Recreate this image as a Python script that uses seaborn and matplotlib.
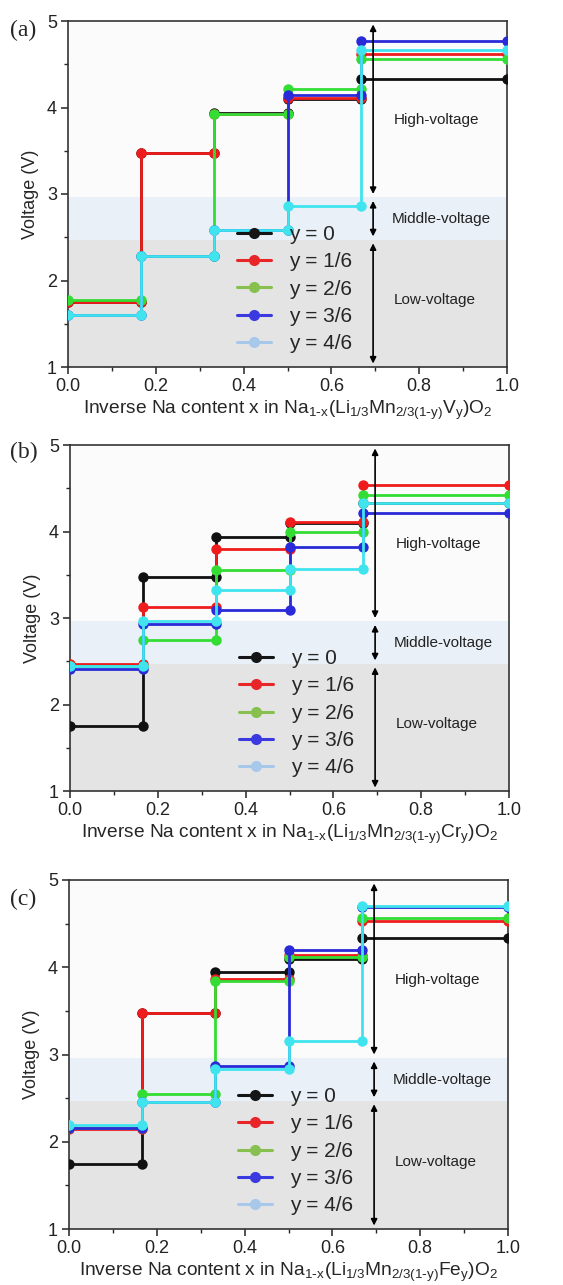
import numpy as np
import pandas as pd
import matplotlib
matplotlib.use("Agg")
import matplotlib.pyplot as plt
import seaborn as sns
from matplotlib.lines import Line2D
from matplotlib.ticker import MultipleLocator

# ---------------- data ----------------
x_breaks = [0.0, 1/6, 2/6, 3/6, 4/6, 1.0]
labels = ["y = 0", "y = 1/6", "y = 2/6", "y = 3/6", "y = 4/6"]

# (a) V-substituted
a_y0 = [1.75, 3.47, 3.94, 4.10, 4.33]
a_y1 = [1.75, 3.47, 3.93, 4.11, 4.62]
a_y2 = [1.77, 2.28, 3.92, 4.21, 4.56]
a_y3 = [1.60, 2.28, 2.58, 4.15, 4.77]
a_y4 = [1.60, 2.28, 2.58, 2.86, 4.66]

# (b) Cr-substituted
b_y0 = [1.75, 3.47, 3.94, 4.10, 4.33]
b_y1 = [2.47, 3.13, 3.80, 4.11, 4.54]
b_y2 = [2.44, 2.75, 3.56, 3.99, 4.42]
b_y3 = [2.41, 2.93, 3.09, 3.82, 4.21]
b_y4 = [2.44, 2.97, 3.32, 3.57, 4.33]

# (c) Fe-substituted
c_y0 = [1.75, 3.47, 3.94, 4.10, 4.33]
c_y1 = [2.15, 3.47, 3.87, 4.14, 4.53]
c_y2 = [2.16, 2.55, 3.84, 4.12, 4.57]
c_y3 = [2.16, 2.45, 2.87, 4.20, 4.69]
c_y4 = [2.19, 2.45, 2.83, 3.15, 4.70]

region_edges = [1.0, 2.47, 2.96, 5.0]
region_names = ["Low-voltage", "Middle-voltage", "High-voltage"]

panel_tags = ["(a)", "(b)", "(c)"]
dopants = ["V", "Cr", "Fe"]

# ---------------- style ----------------
sns.set_theme(style="ticks")
plt.rcParams["font.family"] = ["Liberation Sans", "DejaVu Sans"]
plt.rcParams["mathtext.default"] = "regular"

line_colors = ["#111111", "#ee1c1c", "#33dd33", "#2a2ad8", "#40e4ee"]
legend_colors = ["#151515", "#e8262a", "#88c050", "#3a3ae0", "#a8c8ea"]
band_colors = ["#e4e4e4", "#eaf0f8", "#fbfbfc"]

fig = plt.figure(figsize=(5.63, 12.85), dpi=100)

axes_rects = [
    [68/563, 1 - 367/1285, 439/563, 346/1285],
    [70/563, 1 - 791/1285, 439/563, 346/1285],
    [69/563, 1 - 1229/1285, 439/563, 349/1285],
]
tag_y = [1 - 30/1285, 1 - 452/1285, 1 - 899/1285]

panels = [
    [a_y0, a_y1, a_y2, a_y3, a_y4],
    [b_y0, b_y1, b_y2, b_y3, b_y4],
    [c_y0, c_y1, c_y2, c_y3, c_y4],
]


def step_frame(vals, label):
    xs, ys = [], []
    for i, v in enumerate(vals):
        xs += [x_breaks[i], x_breaks[i + 1]]
        ys += [v, v]
    return pd.DataFrame({"x": xs, "V": ys, "series": label})


for p, (rect, series, tag, dop) in enumerate(zip(axes_rects, panels, panel_tags, dopants)):
    ax = fig.add_axes(rect)
    # background regions
    for k in range(3):
        ax.axhspan(region_edges[k], region_edges[k + 1], color=band_colors[k], lw=0, zorder=0)

    for vals, lab, col in zip(series, labels, line_colors):
        df = step_frame(vals, lab)
        sns.lineplot(data=df, x="x", y="V", ax=ax, sort=False, estimator=None,
                     color=col, lw=2.0, marker="o", markersize=7.5,
                     markeredgewidth=0, legend=False, zorder=3)

    # arrows
    ax_x = 0.695
    for k in range(3):
        lo = region_edges[k] + 0.04
        hi = region_edges[k + 1] - 0.04
        ax.annotate("", xy=(ax_x, hi), xytext=(ax_x, lo),
                    arrowprops=dict(arrowstyle="<|-|>", color="black", lw=1.2,
                                    mutation_scale=9, shrinkA=0, shrinkB=0),
                    zorder=4)
    ax.text(0.84, 3.85, region_names[2], ha="center", va="center", fontsize=11, color="#222222")
    ax.text(0.85, 2.71, region_names[1], ha="center", va="center", fontsize=11, color="#222222")
    ax.text(0.835, 1.77, region_names[0], ha="center", va="center", fontsize=11, color="#222222")

    ax.set_xlim(0, 1)
    ax.set_ylim(1, 5)
    ax.xaxis.set_major_locator(MultipleLocator(0.2))
    ax.xaxis.set_minor_locator(MultipleLocator(0.1))
    ax.yaxis.set_major_locator(MultipleLocator(1))
    ax.yaxis.set_minor_locator(MultipleLocator(0.5))
    ax.xaxis.set_major_formatter(matplotlib.ticker.FormatStrFormatter("%.1f"))
    ax.tick_params(axis="both", which="major", direction="out", length=5, width=1.1,
                   labelsize=13, colors="#222222", pad=3)
    ax.tick_params(axis="both", which="minor", direction="out", length=3, width=1.0)
    for s in ax.spines.values():
        s.set_visible(True)
        s.set_linewidth(1.2)
        s.set_color("#333333")
    ax.set_ylabel("Voltage (V)", fontsize=13, labelpad=6)
    ax.set_xlabel(r"Inverse Na content x in Na$_{1\text{-}x}$(Li$_{1/3}$Mn$_{2/3(1\text{-}y)}$"
                  + dop + r"$_y$)O$_2$", fontsize=13.8, labelpad=3)

    handles = [Line2D([0], [0], color=c, lw=2.2, marker="o", markersize=8,
                      markeredgewidth=0) for c in legend_colors]
    leg = ax.legend(handles, labels, loc="lower left", bbox_to_anchor=(0.355, 0.0),
                    frameon=False, fontsize=15, handlelength=1.6, handletextpad=0.9,
                    labelspacing=0.4, borderaxespad=0.25)
    leg.set_zorder(5)

    fig.text(10/563, tag_y[p], tag, fontsize=17, family=["Liberation Serif", "DejaVu Serif"],
             ha="left", va="center")

fig.savefig("out.png", dpi=100)
